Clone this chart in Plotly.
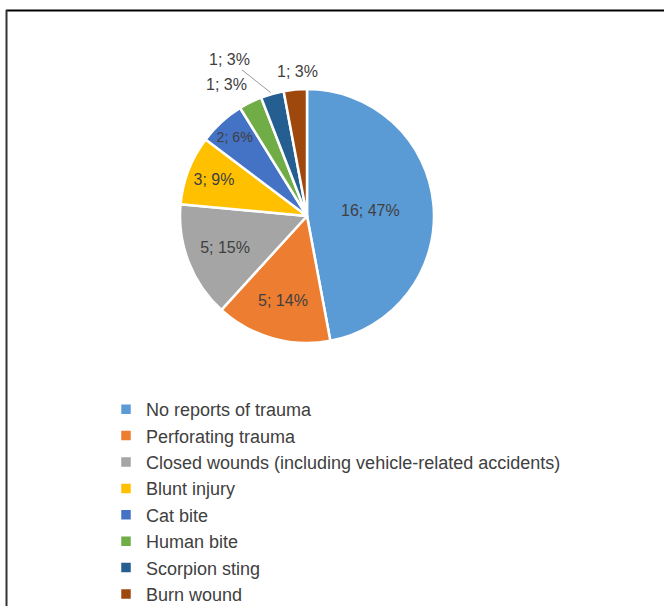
import math
import plotly.graph_objects as go

categories = [
    "No reports of trauma",
    "Perforating trauma",
    "Closed wounds (including vehicle-related accidents)",
    "Blunt injury",
    "Cat bite",
    "Human bite",
    "Scorpion sting",
    "Burn wound",
]
counts = [16, 5, 5, 3, 2, 1, 1, 1]
percent_labels = [47, 14, 15, 9, 6, 3, 3, 3]
colors = ["#5B9BD5", "#ED7D31", "#A5A5A5", "#FFC000", "#4472C4", "#70AD47", "#255E91", "#9E480E"]
label_positions = ["inside", "inside", "inside", "inside", "inside", "none", "none", "none"]

W, H = 664, 606
cx, cy, r = 307, 216, 127
FONT = "Liberation Sans, Arial, sans-serif"
TXT = "#404040"

texts = [f"{c}; {p}%" for c, p in zip(counts, percent_labels)]

fig = go.Figure(go.Pie(
    labels=categories,
    values=counts,
    text=texts,
    textinfo="text",
    textposition=label_positions,
    insidetextorientation="horizontal",
    sort=False,
    direction="clockwise",
    rotation=0,
    marker=dict(colors=colors, line=dict(color="white", width=2.5)),
    textfont=dict(family=FONT, size=16, color=TXT),
    domain=dict(x=[(cx - r) / W, (cx + r) / W], y=[1 - (cy + r) / H, 1 - (cy - r) / H]),
    hoverinfo="label+value",
))

# outside labels for the small slices, anchored on each slice's outer edge midpoint
label_offsets = {5: (-24, -18, False), 6: (-43, -34, True), 7: (2, -18, False)}
total = sum(counts)
cum = 0
annotations = []
for i, v in enumerate(counts):
    mid = (cum + v / 2) / total * 2 * math.pi
    cum += v
    if i not in label_offsets:
        continue
    px = cx + r * math.sin(mid)
    py = cy - r * math.cos(mid)
    ax, ay, line = label_offsets[i]
    annotations.append(dict(
        x=px / W, y=1 - py / H, xref="paper", yref="paper",
        text=texts[i], showarrow=True, arrowhead=0, arrowwidth=1,
        arrowcolor="#9a9a9a" if line else "rgba(0,0,0,0)",
        ax=ax, ay=ay, standoff=2,
        font=dict(family=FONT, size=16, color=TXT),
    ))

fig.update_layout(
    width=W, height=H,
    margin=dict(l=0, r=0, t=0, b=0, autoexpand=False),
    paper_bgcolor="white",
    plot_bgcolor="white",
    showlegend=True,
    annotations=annotations,
    legend=dict(
        x=106 / W, y=1 - 391 / H, xanchor="left", yanchor="top",
        orientation="v",
        font=dict(family=FONT, size=18, color=TXT),
        bgcolor="rgba(0,0,0,0)",
        itemclick=False,
    ),
    shapes=[
        dict(type="line", xref="paper", yref="paper", x0=6 / W, x1=1, y0=1 - 10.5 / H, y1=1 - 10.5 / H,
             line=dict(color="black", width=2)),
        dict(type="line", xref="paper", yref="paper", x0=6.5 / W, x1=6.5 / W, y0=0, y1=1 - 10 / H,
             line=dict(color="#333333", width=2)),
    ],
)

fig.write_html("out.html", config={"displayModeBar": False},
               post_script="document.body.style.margin='0px';")
